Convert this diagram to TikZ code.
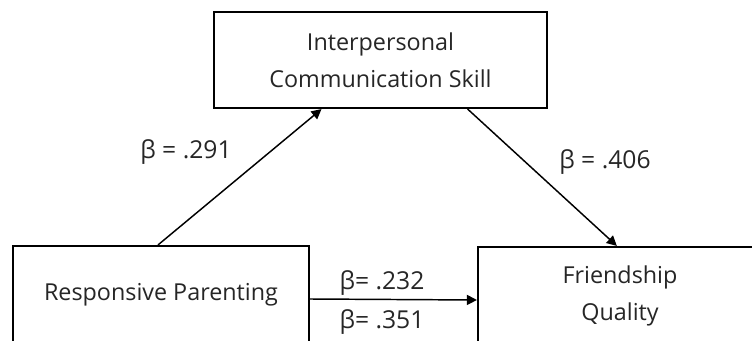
\documentclass[tikz,border=0pt]{standalone}
\usepackage{fontspec}
\setmainfont{Open Sans}
\usetikzlibrary{arrows.meta,calc}
\begin{document}
\begin{tikzpicture}[x=0.75pt,y=-0.75pt,
  box/.style={draw=black,line width=1.6pt,fill=white,align=center,inner sep=0pt,
    font=\fontsize{17.5}{27.5}\selectfont,text=black!85},
  arr/.style={draw=black,line width=1.1pt,-{Triangle[length=7.5pt,width=7.5pt]}},
  lab/.style={font=\fontsize{18.5}{20}\selectfont,text=black!85,inner sep=0pt}]
\useasboundingbox (0,0) rectangle (752,341);
\clip (0,0) rectangle (752,341);
\node[box,minimum width=249.75pt,minimum height=72pt] (tb) at (380.5,60) {Interpersonal\\Communication Skill};
\node[box,minimum width=222pt,minimum height=73.5pt] (lb) at (161,295) {Responsive Parenting};
\node[box,minimum width=213pt,minimum height=73.5pt] (rb) at (620,296) {Friendship\\Quality};
\draw[arr] ($(lb.north west)!0.49!(lb.north east)$) -- ($(tb.south west)!0.324!(tb.south east)$);
\draw[arr] ($(tb.south west)!0.76!(tb.south east)$) -- ($(rb.north west)!0.489!(rb.north east)$);
\draw[arr] ([yshift=-3pt]lb.east) -- ([yshift=-3pt]rb.west);
\node[lab] (l1) at (186,152) {β = .291};
\node[lab] (l2) at (605,162) {β = .406};
\node[lab] (l3) at (382,283) {β= .232};
\node[lab] (l4) at (382,322) {β= .351};
\end{tikzpicture}
\end{document}
